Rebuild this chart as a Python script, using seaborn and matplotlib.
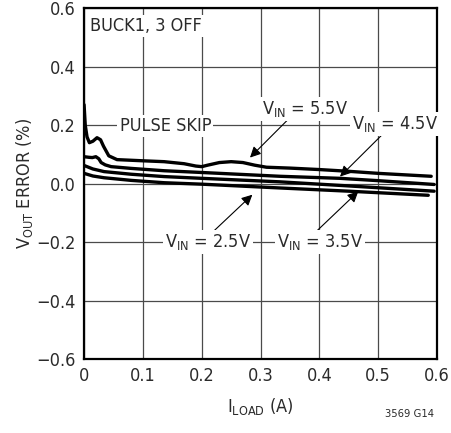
import matplotlib
matplotlib.use('Agg')
import matplotlib.pyplot as plt
import seaborn as sns
import pandas as pd

# series (I_LOAD in A, V_OUT error in %)
x_55 = [0.0, 0.002, 0.005, 0.009, 0.015, 0.022, 0.028, 0.033, 0.042, 0.056, 0.1, 0.136,
        0.17, 0.19, 0.2, 0.21, 0.23, 0.25, 0.27, 0.29, 0.31, 0.35, 0.4, 0.45, 0.5, 0.59]
y_55 = [0.27, 0.2, 0.16, 0.14, 0.145, 0.157, 0.15, 0.128, 0.095, 0.082, 0.078, 0.075,
        0.068, 0.06, 0.058, 0.063, 0.072, 0.075, 0.072, 0.063, 0.056, 0.053, 0.048, 0.042, 0.035, 0.025]
x_45 = [0.0, 0.008, 0.014, 0.02, 0.025, 0.029, 0.036, 0.046, 0.08, 0.136, 0.2, 0.333, 0.435, 0.5, 0.595]
y_45 = [0.092, 0.09, 0.089, 0.092, 0.085, 0.072, 0.064, 0.058, 0.052, 0.044, 0.038, 0.025, 0.018, 0.01, -0.003]
x_35 = [0.0, 0.015, 0.034, 0.08, 0.136, 0.2, 0.333, 0.45, 0.595]
y_35 = [0.062, 0.05, 0.041, 0.032, 0.024, 0.018, 0.006, -0.008, -0.026]
x_25 = [0.0, 0.015, 0.034, 0.08, 0.136, 0.2, 0.333, 0.45, 0.585]
y_25 = [0.035, 0.026, 0.02, 0.011, 0.003, -0.002, -0.015, -0.026, -0.04]

x_ticks = [0, 0.1, 0.2, 0.3, 0.4, 0.5, 0.6]
x_tick_labels = ['0', '0.1', '0.2', '0.3', '0.4', '0.5', '0.6']
y_ticks = [-0.6, -0.4, -0.2, 0.0, 0.2, 0.4, 0.6]
y_tick_labels = ['\u22120.6', '\u22120.4', '\u22120.2', '0.0', '0.2', '0.4', '0.6']

frames = []
for name, xs, ys in [('5.5', x_55, y_55), ('4.5', x_45, y_45), ('3.5', x_35, y_35), ('2.5', x_25, y_25)]:
    frames.append(pd.DataFrame({'iload': xs, 'err': ys, 'vin': name}))
df = pd.concat(frames, ignore_index=True)

sns.set_theme(style='white')
plt.rcParams['font.family'] = ['DejaVu Sans']
plt.rcParams['font.stretch'] = 'condensed'
plt.rcParams['mathtext.fontset'] = 'custom'
plt.rcParams['mathtext.rm'] = 'DejaVu Sans:stretch=condensed'
plt.rcParams['mathtext.it'] = 'DejaVu Sans:stretch=condensed'
plt.rcParams['mathtext.bf'] = 'DejaVu Sans:stretch=condensed'
plt.rcParams['mathtext.default'] = 'regular'

fig = plt.figure(figsize=(4.52, 4.33), dpi=100)
ax = fig.add_axes([0.186, 0.171, 0.781, 0.810])

sns.lineplot(data=df, x='iload', y='err', hue='vin', units='vin', estimator=None, sort=False,
             palette=['black'] * 4, linewidth=2.4, legend=False, ax=ax)

ax.set_xlim(0, 0.6)
ax.set_ylim(-0.6, 0.6)
ax.set_xticks(x_ticks)
ax.set_xticklabels(x_tick_labels)
ax.set_yticks(y_ticks)
ax.set_yticklabels(y_tick_labels)
ax.tick_params(length=0, labelsize=13, colors='#2a2a2a', pad=6)
ax.grid(True, color='#4a4a4a', linewidth=0.9)
for s in ax.spines.values():
    s.set_color('black')
    s.set_linewidth(1.6)

ax.set_xlabel('I$_{LOAD}$ (A)', fontsize=13, color='#2a2a2a', labelpad=8)
ax.set_ylabel('V$_{OUT}$ ERROR (%)', fontsize=13, color='#2a2a2a', labelpad=1)

box = dict(facecolor='white', edgecolor='none', pad=1.5)
ax.text(0.01, 0.54, 'BUCK1, 3 OFF', fontsize=13, color='#2a2a2a', ha='left', va='center', bbox=box)
ax.text(0.138, 0.197, 'PULSE SKIP', fontsize=13, color='#2a2a2a', ha='center', va='center', bbox=box)

arrow = dict(arrowstyle='-|>', color='black', lw=0.8, mutation_scale=16, shrinkA=0, shrinkB=0)
labels = [
    ('V$_{IN}$ = 5.5V', (0.376, 0.256), (0.35, 0.226), (0.282, 0.089)),
    ('V$_{IN}$ = 4.5V', (0.529, 0.205), (0.507, 0.168), (0.435, 0.024)),
    ('V$_{IN}$ = 2.5V', (0.211, -0.2), (0.218, -0.167), (0.286, -0.038)),
    ('V$_{IN}$ = 3.5V', (0.401, -0.2), (0.393, -0.167), (0.466, -0.027)),
]
for txt, pos, start, tip in labels:
    ax.annotate('', xy=tip, xytext=start, arrowprops=arrow)
    ax.text(pos[0], pos[1], txt, fontsize=13, color='#2a2a2a', ha='center', va='center', bbox=box)

fig.text(0.907, 0.045, '3569 G14', fontsize=8, color='#2a2a2a', ha='center', va='center')

fig.savefig('out.png', dpi=100)
